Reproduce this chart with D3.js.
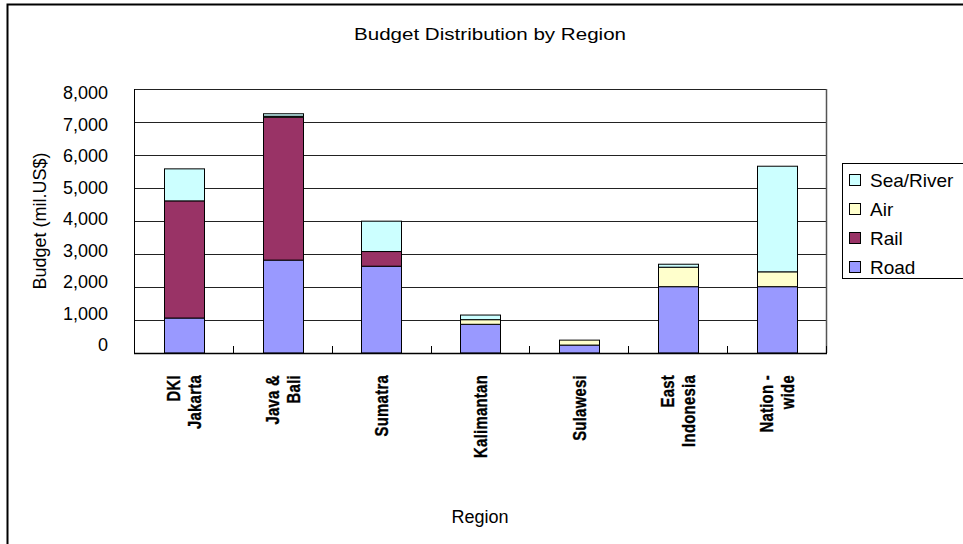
<!DOCTYPE html>
<html>
<head>
<meta charset="utf-8">
<script src="https://cdn.jsdelivr.net/npm/d3@7/dist/d3.min.js"></script>
<style>
  html, body { margin: 0; padding: 0; background: #ffffff; }
  svg { display: block; font-family: "Liberation Sans", Arial, sans-serif; }
</style>
</head>
<body>
<svg id="chart" width="963" height="544"></svg>
<script>
// Regions along the x axis, with the line breaks used for their labels
const categories = ["DKI Jakarta", "Java & Bali", "Sumatra", "Kalimantan", "Sulawesi", "East Indonesia", "Nation-wide"];
const labelLines = [["DKI", "Jakarta"], ["Java &", "Bali"], ["Sumatra"], ["Kalimantan"], ["Sulawesi"], ["East", "Indonesia"], ["Nation -", "wide"]];

// Budget per mode (mil. US$), stacked bottom to top
const road = [1060, 2815, 2630, 870, 240, 2010, 2010];
const rail = [3550, 4330, 445, 0, 0, 0, 0];
const air  = [0, 30, 0, 140, 150, 590, 450];
const sea  = [970, 75, 920, 140, 0, 90, 3200];

const seriesNames = ["Road", "Rail", "Air", "Sea/River"];
const seriesColors = ["#9999FF", "#993366", "#FFFFCC", "#CCFFFF"];
const yTicks = [0, 1000, 2000, 3000, 4000, 5000, 6000, 7000, 8000];

const svg = d3.select("#chart");

// Outer chart frame
svg.append("rect")
  .attr("x", 7.5).attr("y", 4.5).attr("width", 1000).attr("height", 600)
  .attr("fill", "none").attr("stroke", "#000").attr("stroke-width", 2);

const plot = { left: 134, right: 826, top: 89, bottom: 353 };

const x = d3.scaleBand()
  .domain(categories)
  .range([plot.left, plot.right])
  .paddingInner(0.6)
  .paddingOuter(0.3);

const y = d3.scaleLinear().domain([0, 8000]).range([plot.bottom, plot.top]);

// Horizontal gridlines
svg.append("g")
  .selectAll("line")
  .data(yTicks.filter(v => v > 0))
  .join("line")
  .attr("x1", plot.left).attr("x2", plot.right)
  .attr("y1", d => Math.round(y(d)) + 0.5).attr("y2", d => Math.round(y(d)) + 0.5)
  .attr("stroke", "#222").attr("stroke-width", 1);

// Plot area border (right side)
svg.append("line")
  .attr("x1", plot.right + 0.5).attr("x2", plot.right + 0.5)
  .attr("y1", plot.top).attr("y2", plot.bottom)
  .attr("stroke", "#555").attr("stroke-width", 1.5);

// Stacked bars
const table = categories.map((c, i) => ({ region: c, Road: road[i], Rail: rail[i], Air: air[i], "Sea/River": sea[i] }));
const stack = d3.stack().keys(seriesNames)(table);

const layers = svg.append("g").selectAll("g")
  .data(stack)
  .join("g")
  .attr("fill", (d, i) => seriesColors[i]);

layers.selectAll("rect")
  .data(d => d.filter(s => s[1] - s[0] > 0))
  .join("rect")
  .attr("x", d => Math.round(x(d.data.region)) + 0.5)
  .attr("width", Math.round(x.bandwidth()))
  .attr("y", d => y(d[1]))
  .attr("height", d => y(d[0]) - y(d[1]))
  .attr("stroke", "#000")
  .attr("stroke-width", 1);

// Y axis line
svg.append("line")
  .attr("x1", plot.left + 0.5).attr("x2", plot.left + 0.5)
  .attr("y1", plot.top).attr("y2", plot.bottom)
  .attr("stroke", "#000").attr("stroke-width", 1);

// X axis baseline and category divider ticks
svg.append("line")
  .attr("x1", plot.left).attr("x2", plot.right + 1)
  .attr("y1", plot.bottom + 0.5).attr("y2", plot.bottom + 0.5)
  .attr("stroke", "#000").attr("stroke-width", 1.5);

const step = x.step();
svg.append("g").selectAll("line")
  .data(categories.slice(1).concat(["__end"]))
  .join("line")
  .attr("x1", (d, i) => Math.round(plot.left + step * (i + 1)) + 0.5)
  .attr("x2", (d, i) => Math.round(plot.left + step * (i + 1)) + 0.5)
  .attr("y1", plot.bottom - 7).attr("y2", plot.bottom)
  .attr("stroke", "#000").attr("stroke-width", 1);

// Y tick labels
const yLabel = y.copy().range([345, 93]);
svg.append("g").selectAll("text")
  .data(yTicks)
  .join("text")
  .attr("x", 108)
  .attr("y", d => yLabel(d))
  .attr("dy", "0.36em")
  .attr("text-anchor", "end")
  .attr("font-size", 18)
  .attr("fill", "#000")
  .text(d => d3.format(",")(d));

// Category labels, rotated; glyphs are tall and narrow along the reading direction
const catG = svg.append("g").selectAll("g")
  .data(categories)
  .join("g")
  .attr("transform", d => `translate(${x(d) + x.bandwidth() / 2},375) rotate(-90) scale(0.78,1)`);

catG.each(function(d, i) {
  const lines = labelLines[i];
  const n = lines.length;
  d3.select(this).selectAll("text")
    .data(lines)
    .join("text")
    .attr("x", 0)
    .attr("y", (t, j) => (j - (n - 1) / 2) * 21)
    .attr("dy", "0.36em")
    .attr("text-anchor", "end")
    .attr("font-size", 19)
    .attr("font-weight", "bold")
    .attr("letter-spacing", 0.4)
    .attr("fill", "#000")
    .attr("stroke", "#000")
    .attr("stroke-width", 0.35)
    .text(t => t);
});

// Title
svg.append("text")
  .attr("x", 490).attr("y", 40)
  .attr("text-anchor", "middle")
  .attr("font-size", 16.5)
  .attr("textLength", 272)
  .attr("lengthAdjust", "spacingAndGlyphs")
  .attr("fill", "#000")
  .text("Budget Distribution by Region");

// Axis titles
svg.append("text")
  .attr("transform", `translate(46,${(plot.top + plot.bottom) / 2}) rotate(-90)`)
  .attr("text-anchor", "middle")
  .attr("font-size", 18)
  .attr("fill", "#000")
  .text("Budget (mil.US$)");

svg.append("text")
  .attr("x", 480).attr("y", 523)
  .attr("text-anchor", "middle")
  .attr("font-size", 18)
  .attr("fill", "#000")
  .text("Region");

// Legend (top entry is the top of the stack)
const legend = svg.append("g").attr("transform", "translate(842,163)");
legend.append("rect")
  .attr("x", 0.5).attr("y", 0.5).attr("width", 200).attr("height", 115)
  .attr("fill", "#fff").attr("stroke", "#000").attr("stroke-width", 1);

const legendOrder = seriesNames.map((n, i) => ({ name: n, color: seriesColors[i] })).reverse();
const items = legend.selectAll("g.item")
  .data(legendOrder)
  .join("g")
  .attr("class", "item")
  .attr("transform", (d, i) => `translate(0,${17 + i * 29})`);

items.append("rect")
  .attr("x", 7.5).attr("y", -5.5).attr("width", 11).attr("height", 11)
  .attr("fill", d => d.color).attr("stroke", "#000").attr("stroke-width", 1);

items.append("text")
  .attr("x", 28).attr("y", 0).attr("dy", "0.36em")
  .attr("font-size", 19)
  .attr("fill", "#000")
  .text(d => d.name);
</script>
</body>
</html>
